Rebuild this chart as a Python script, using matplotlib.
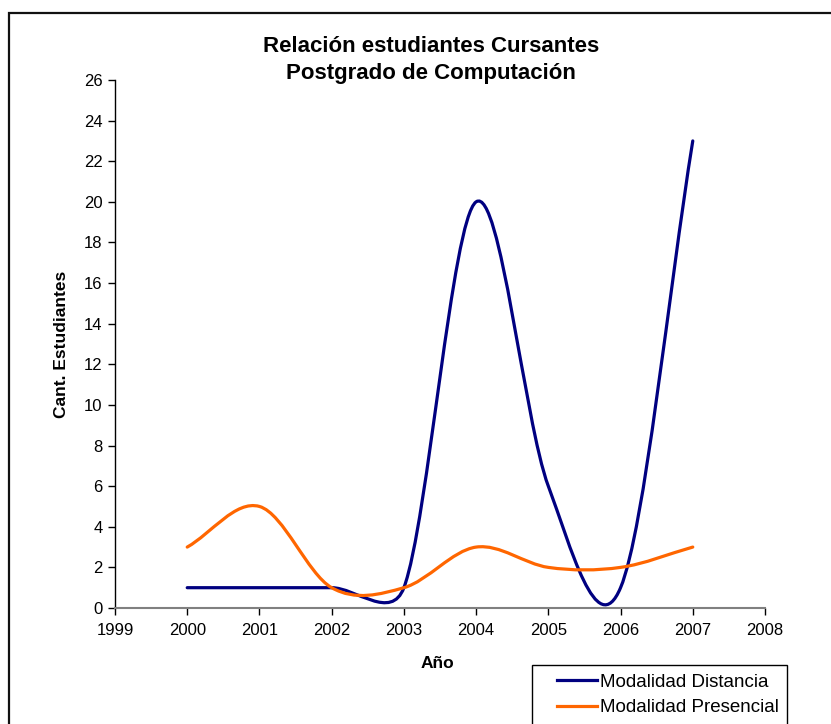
import numpy as np
import matplotlib
matplotlib.use('Agg')
import matplotlib.pyplot as plt
from matplotlib.path import Path
from matplotlib.patches import PathPatch, Rectangle
from matplotlib.lines import Line2D
from matplotlib.legend_handler import HandlerLine2D

plt.rcParams['font.family'] = ['Liberation Sans', 'DejaVu Sans']

# --- data ---
years = [2000, 2001, 2002, 2003, 2004, 2005, 2006, 2007]
distancia = [1, 1, 1, 1, 20, 6, 1, 23]
presencial = [3, 5, 1, 1, 3, 2, 2, 3]

title = 'Relación estudiantes Cursantes\nPostgrado de Computación'
xlabel = 'Año'
ylabel = 'Cant. Estudiantes'
label_dist = 'Modalidad Distancia'
label_pres = 'Modalidad Presencial'

COL_DIST = '#000080'
COL_PRES = '#FF6600'
W, H = 831, 724


def excel_smooth_path(ax, xs, ys):
    """Bezier path like Excel's 'smoothed line' (control points worked out in pixel space)."""
    to_px = ax.transData
    to_data = ax.transData.inverted()
    pts = to_px.transform(np.column_stack([xs, ys]))
    n = len(pts)
    verts = [pts[0]]
    codes = [Path.MOVETO]
    for i in range(n - 1):
        p1, p2 = pts[i], pts[i + 1]
        p0 = pts[i - 1] if i > 0 else p1
        p3 = pts[i + 2] if i + 2 < n else p2
        d12 = np.hypot(*(p2 - p1))
        d02 = np.hypot(*(p2 - p0))
        d13 = np.hypot(*(p3 - p1))
        f = 1 / 3 if i == 0 else 1 / 6
        g = 1 / 3 if i + 2 >= n else 1 / 6
        if d02 * f > d12 / 2:
            f = d12 / (2 * d02)
        if d13 * g > d12 / 2:
            g = d12 / (2 * d13)
        b1 = p1 + (p2 - p0) * f
        b2 = p2 - (p3 - p1) * g
        verts += [b1, b2, p2]
        codes += [Path.CURVE4] * 3
    verts = to_data.transform(np.array(verts))
    return Path(verts, codes)


class ShortLine(HandlerLine2D):
    """Legend line that leaves some empty room on its left, like Excel."""
    def create_artists(self, legend, orig_handle, xdescent, ydescent, width,
                       height, fontsize, trans):
        off = width * 0.29
        return super().create_artists(legend, orig_handle, xdescent - off, ydescent,
                                      width - off, height, fontsize, trans)


fig = plt.figure(figsize=(W / 100, H / 100), dpi=100)
ax = fig.add_axes([115 / W, 1 - 608 / H, (765 - 115) / W, (608 - 80) / H])

ax.set_xlim(1999, 2008)
ax.set_ylim(0, 26)
ax.set_xticks(range(1999, 2009))
ax.set_yticks(range(0, 27, 2))

for ys, col in [(distancia, COL_DIST), (presencial, COL_PRES)]:
    path = excel_smooth_path(ax, years, ys)
    ax.add_patch(PathPatch(path, facecolor='none', edgecolor=col, lw=2.3,
                           capstyle='round', joinstyle='round', clip_on=False))

for s in ['top', 'right']:
    ax.spines[s].set_visible(False)
ax.spines['left'].set_color('black')
ax.spines['left'].set_linewidth(1.0)
ax.spines['bottom'].set_color('#808080')
ax.spines['bottom'].set_linewidth(1.5)
ax.tick_params(axis='both', direction='out', length=5, width=1.0, labelsize=12)
ax.tick_params(axis='x', color='black', pad=6)
ax.tick_params(axis='y', pad=4)

ax.set_xlabel(xlabel, fontsize=12.5, fontweight='bold')
ax.xaxis.set_label_coords((437 - 115) / 650, -(663 - 608) / 528)
ax.xaxis.label.set_va('center')
ax.set_ylabel(ylabel, fontsize=12.5, fontweight='bold')
ax.yaxis.set_label_coords((62 - 115) / 650, (608 - 344) / 528)
ax.yaxis.label.set_va('center')

fig.text(431 / W, 1 - 60 / H, title, ha='center', va='center', fontsize=16,
         fontweight='bold', linespacing=1.4)

# legend box (runs off the bottom of the canvas, as in the reference)
handles = [Line2D([], [], color=COL_DIST, lw=2.3), Line2D([], [], color=COL_PRES, lw=2.3)]
leg = fig.legend(handles, [label_dist, label_pres], loc='upper left',
                 bbox_to_anchor=(532 / W, 1 - 665 / H), borderaxespad=0,
                 fancybox=False, edgecolor='black', framealpha=1, fontsize=13.5,
                 handlelength=3.0, handletextpad=0.15, labelspacing=0.45,
                 borderpad=0.45, handler_map={Line2D: ShortLine()})
leg.get_frame().set_linewidth(1.0)

# chart-area border
fig.patches.append(Rectangle((9 / W, -0.1), 1.2, 1 - 13 / H + 0.1,
                             transform=fig.transFigure, fill=False,
                             edgecolor='#111111', lw=1.6))

fig.savefig('out.png', dpi=100)
